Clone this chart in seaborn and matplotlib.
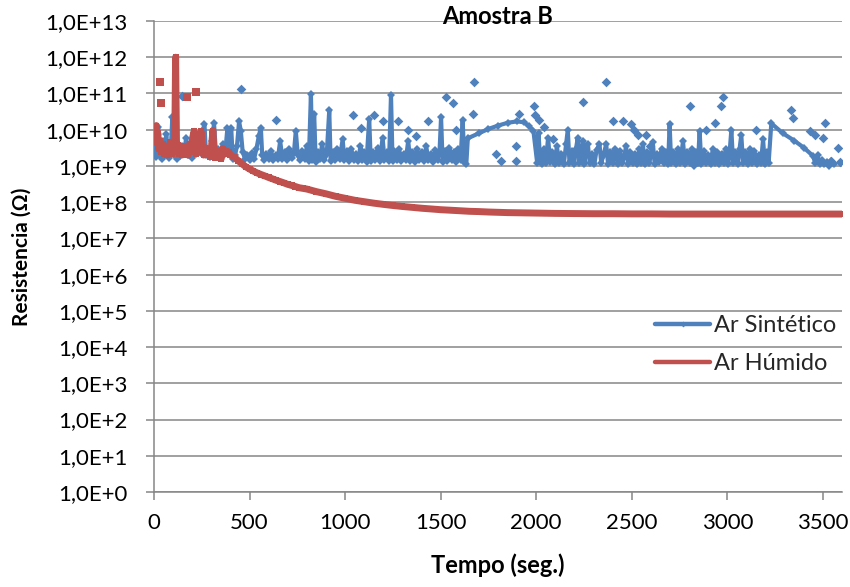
import numpy as np
import pandas as pd
import matplotlib
matplotlib.use("Agg")
import matplotlib.pyplot as plt
from matplotlib.lines import Line2D
import seaborn as sns

# ---- Ar Sintético: continuous trace (tempo em s, resistência em Ω) ----
t_sint = [
    0, 5, 10, 16, 22, 28, 34, 40, 48, 56, 64, 72, 80, 88, 96, 102, 110, 118, 128, 138,
    148, 158, 168, 178, 188, 198, 210, 222, 234, 246, 256, 264, 272, 282, 292, 304, 314, 324, 336, 348,
    360, 372, 384, 394, 404, 412, 424, 434, 445, 454, 464, 476, 488, 500, 512, 524, 536, 548, 559, 566,
    576, 588, 600, 612, 624, 636, 648, 660, 672, 684, 696, 708, 720, 732, 742, 752, 764, 776, 788, 800,
    810, 821, 828, 838, 846, 856, 868, 880, 892, 904, 917, 924, 936, 948, 960, 972, 987, 996, 1008, 1020,
    1032, 1044, 1056, 1068, 1080, 1090, 1100, 1112, 1126, 1134, 1146, 1158, 1170, 1182, 1196, 1206, 1218, 1230, 1240, 1248,
    1258, 1270, 1282, 1294, 1306, 1318, 1330, 1340, 1352, 1364, 1376, 1388, 1400, 1412, 1424, 1436, 1448, 1460, 1472, 1484,
    1494, 1502, 1510, 1522, 1534, 1546, 1558, 1570, 1580, 1592, 1604, 1615, 1624, 1634, 1642, 1700, 1750, 1800, 1850, 1900,
    1935, 1960, 1985, 2005, 2012, 2020, 2030, 2040, 2050, 2062, 2072, 2084, 2096, 2108, 2120, 2132, 2144, 2156, 2165, 2174,
    2186, 2198, 2208, 2217, 2226, 2236, 2244, 2252, 2262, 2270, 2280, 2292, 2304, 2316, 2331, 2340, 2352, 2366, 2376, 2388,
    2400, 2410, 2418, 2426, 2438, 2450, 2462, 2470, 2480, 2492, 2504, 2516, 2528, 2540, 2550, 2558, 2568, 2580, 2592, 2610,
    2620, 2632, 2644, 2656, 2668, 2680, 2690, 2698, 2706, 2718, 2730, 2742, 2754, 2768, 2778, 2790, 2802, 2814, 2826, 2838,
    2846, 2855, 2864, 2876, 2888, 2900, 2912, 2924, 2936, 2948, 2958, 2970, 2980, 2992, 3004, 3012, 3021, 3030, 3042, 3054,
    3064, 3073, 3082, 3094, 3106, 3118, 3130, 3142, 3154, 3164, 3176, 3187, 3196, 3206, 3216, 3230, 3290, 3350, 3400, 3448,
    3460, 3472, 3484, 3496, 3508, 3520, 3532, 3544, 3556,
]
r_sint = [
    2.5e9, 4.0e9, 1.8e9, 6.5e9, 1.2e10, 2.0e9, 3.2e9, 1.6e9, 5.0e9, 2.0e9, 7.5e9, 2.3e9, 1.7e9, 3.0e9, 2.3e10, 2.0e9, 4.5e9, 1.6e9, 2.8e9, 1.9e9,
    3.5e9, 2.2e9, 6.0e9, 2.0e9, 3.0e9, 1.7e9, 4.0e9, 2.1e9, 7.0e9, 2.3e9, 1.0e10, 1.4e10, 2.0e9, 3.0e9, 1.8e9, 5.0e9, 1.5e10, 2.2e9, 3.0e9, 1.9e9,
    4.0e9, 2.2e9, 1.1e10, 2.5e9, 1.1e10, 1.6e9, 2.0e9, 3.5e9, 1.7e10, 9.5e9, 2.4e9, 1.6e9, 2.0e9, 1.5e9, 2.3e9, 1.6e9, 3.0e9, 6.5e9, 1.15e10, 2.0e9,
    1.5e9, 2.2e9, 1.6e9, 2.6e9, 1.5e9, 2.0e9, 1.6e9, 4.9e9, 1.6e9, 2.5e9, 1.5e9, 3.0e9, 1.7e9, 2.3e9, 9.3e9, 2.0e9, 1.5e9, 2.6e9, 1.6e9, 3.5e9,
    1.4e9, 9.5e10, 1.5e9, 2.8e10, 1.3e9, 2.5e9, 1.6e9, 4.0e9, 1.5e9, 2.2e9, 3.5e10, 1.4e9, 2.4e9, 1.5e9, 3.0e9, 1.6e9, 5.4e9, 1.5e9, 2.6e9, 1.4e9,
    3.0e9, 1.5e9, 2.2e9, 1.4e9, 3.5e9, 1.5e9, 2.4e9, 1.3e9, 2.0e10, 1.4e9, 2.5e9, 1.5e9, 3.2e9, 1.4e9, 6.0e9, 1.5e9, 2.4e9, 1.4e9, 9.0e10, 1.4e9,
    2.6e9, 1.5e9, 3.0e9, 1.4e9, 2.2e9, 1.5e9, 5.0e9, 1.4e9, 2.5e9, 1.3e9, 3.0e9, 1.5e9, 2.4e9, 1.4e9, 3.5e9, 1.5e9, 2.2e9, 1.3e9, 2.8e9, 1.5e9,
    2.5e9, 2.2e10, 1.3e9, 2.6e9, 1.4e9, 3.2e9, 1.5e9, 2.4e9, 1.3e9, 3.0e9, 1.5e9, 1.8e10, 1.3e9, 1.1e9, 5.8e9, 8.0e9, 1.05e10, 1.3e10, 1.55e10, 1.7e10,
    1.6e10, 1.3e10, 9.5e9, 1.2e9, 8.0e9, 1.5e9, 1.1e9, 3.0e9, 1.2e9, 6.0e9, 1.3e9, 2.5e9, 1.1e9, 3.5e9, 1.2e9, 2.2e9, 1.1e9, 4.0e9, 1.0e10, 1.2e9,
    2.6e9, 1.1e9, 3.0e9, 5.8e9, 1.2e9, 2.4e9, 5.0e9, 1.1e9, 3.5e9, 4.0e9, 1.2e9, 2.2e9, 1.1e9, 2.8e9, 4.0e9, 1.2e9, 2.0e9, 4.0e9, 1.1e9, 2.5e9,
    1.2e9, 3.0e9, 2.3e9, 1.1e9, 2.6e9, 1.2e9, 2.0e9, 3.5e9, 1.1e9, 2.4e9, 1.2e9, 2.2e9, 1.1e9, 3.0e9, 1.2e9, 4.0e9, 1.1e9, 2.5e9, 1.2e9, 4.5e9,
    1.1e9, 2.2e9, 1.3e9, 3.0e9, 1.2e9, 2.5e9, 1.1e9, 1.4e10, 1.2e9, 2.4e9, 1.1e9, 3.0e9, 1.2e9, 4.8e9, 1.1e9, 2.5e9, 1.2e9, 3.0e9, 1.0e9, 2.4e9,
    1.2e9, 9.0e9, 1.1e9, 2.6e9, 1.2e9, 2.0e9, 1.1e9, 3.0e9, 1.2e9, 2.5e9, 1.1e9, 2.2e9, 1.2e9, 3.0e9, 1.1e9, 2.4e9, 1.0e10, 1.2e9, 2.5e9, 1.1e9,
    3.0e9, 7.2e9, 1.2e9, 2.4e9, 1.1e9, 3.0e9, 1.2e9, 2.6e9, 1.1e9, 2.0e9, 1.2e9, 5.4e9, 1.1e9, 2.5e9, 1.2e9, 1.5e10, 8.0e9, 5.0e9, 3.2e9, 1.9e9,
    1.2e9, 2.0e9, 1.1e9, 1.5e9, 1.1e9, 1.3e9, 1.0e9, 1.4e9, 1.1e9,
]

# ---- Ar Sintético: isolated readings ----
t_sint_iso = [145, 455, 637, 1039, 1083, 1152, 1196, 1275, 1327, 1371, 1432, 1528, 1563, 1580,
              1668, 1676, 1790, 1816, 1894, 1894, 1912, 1990, 1995, 2017, 2043, 2086, 2244, 2366,
              2401, 2453, 2497, 2514, 2532, 2575, 2593, 2803, 2890, 2934, 2968, 2977, 3152, 3335,
              3344, 3431, 3457, 3501, 3510, 3545, 3580, 3590]
r_sint_iso = [8.5e10, 1.3e11, 1.8e10, 2.5e10, 1.1e10, 2.5e10, 1.7e10, 1.7e10, 1.0e10, 6.6e9, 1.7e10, 8.0e10, 5.4e10, 1.0e10,
              2.8e10, 2.1e11, 2.1e9, 1.4e9, 3.5e9, 1.4e9, 2.8e10, 4.4e10, 2.5e10, 1.9e10, 1.2e10, 5.4e9, 5.9e10, 2.1e11,
              1.7e10, 1.7e10, 1.4e10, 1.0e10, 7.2e9, 7.2e9, 3.5e9, 4.4e10, 1.0e10, 1.5e10, 4.4e10, 8.0e10, 1.0e10, 3.5e10,
              2.1e10, 9.0e9, 7.0e9, 6.0e9, 1.5e10, 1.4e9, 3.2e9, 1.3e9]

# ---- Ar Húmido: continuous trace ----
t_hum = [
    0, 4, 8, 12, 16, 20, 24, 30, 38, 46, 54, 62, 70, 78, 86, 94, 102, 108, 113, 118,
    124, 130, 138, 146, 154, 162, 170, 178, 186, 194, 202, 210, 216, 222, 230, 238, 246, 252, 260, 268,
    276, 284, 292, 300, 308, 314, 320, 328, 336, 344, 352, 360, 368, 376, 384, 392, 400, 420, 440, 460,
    480, 500, 520, 540, 560, 580, 600, 620, 640, 660, 680, 700, 720, 740, 760, 780, 800, 850, 900, 950,
    1000, 1050, 1100, 1150, 1200, 1250, 1300, 1350, 1400, 1450, 1500, 1550, 1600, 1650, 1700, 1750, 1800, 1850, 1900, 1950,
    2000, 2100, 2200, 2300, 2400, 2500, 2600, 2700, 2800, 2900, 3000, 3100, 3200, 3300, 3400, 3500, 3600,
]
r_hum = [
    4.5e9, 6.0e9, 1.0e10, 1.3e10, 5.0e9, 8.0e9, 3.0e9, 5.0e9, 2.5e9, 4.0e9, 2.2e9, 3.5e9, 2.0e9, 3.0e9, 4.5e9, 2.2e9, 3.5e9, 2.5e9, 1.0e12, 2.6e9,
    3.8e9, 2.2e9, 3.0e9, 2.0e9, 3.5e9, 2.4e9, 3.0e9, 2.0e9, 4.0e9, 2.5e9, 6.0e9, 9.0e9, 3.0e9, 2.2e9, 3.5e9, 2.4e9, 9.0e9, 3.0e9, 2.0e9, 3.2e9,
    2.2e9, 2.8e9, 1.8e9, 3.0e9, 9.5e9, 2.5e9, 1.7e9, 2.6e9, 1.8e9, 2.4e9, 1.6e9, 3.0e9, 2.2e9, 2.6e9, 2.2e9, 2.4e9, 2.0e9, 1.75e9, 1.4e9, 1.15e9,
    9.5e8, 8.2e8, 7.2e8, 6.4e8, 5.8e8, 5.3e8, 4.8e8, 4.4e8, 4.0e8, 3.7e8, 3.4e8, 3.1e8, 2.9e8, 2.7e8, 2.5e8, 2.4e8, 2.3e8, 1.95e8, 1.7e8, 1.45e8,
    1.28e8, 1.13e8, 1.03e8, 9.4e7, 8.7e7, 8.1e7, 7.6e7, 7.2e7, 6.8e7, 6.5e7, 6.2e7, 6.0e7, 5.8e7, 5.6e7, 5.5e7, 5.35e7, 5.25e7, 5.15e7, 5.1e7, 5.05e7,
    5.0e7, 4.9e7, 4.85e7, 4.8e7, 4.8e7, 4.75e7, 4.75e7, 4.7e7, 4.7e7, 4.7e7, 4.7e7, 4.7e7, 4.7e7, 4.7e7, 4.7e7, 4.7e7, 4.7e7,
]

# ---- Ar Húmido: isolated readings ----
t_hum_iso = [31, 35, 175, 218]
r_hum_iso = [2.1e11, 5.3e10, 8.0e10, 1.1e11]

# Axis values
y_exponents = list(range(0, 14))
y_tick_labels = [f"1,0E+{k}" for k in y_exponents]
x_ticks = [0, 500, 1000, 1500, 2000, 2500, 3000, 3500]

BLUE = "#4F81BD"
RED = "#C0504D"
GRID = "#868686"

sns.set_theme(style="white")
plt.rcParams["font.family"] = ["Lato", "DejaVu Sans"]

fig = plt.figure(figsize=(8.5, 5.87), dpi=100)
ax = fig.add_axes([0.1812, 0.1618, 0.8094, 0.8024])

sint = pd.DataFrame({"t": t_sint, "r": r_sint})
sint_iso = pd.DataFrame({"t": t_sint_iso, "r": r_sint_iso})
hum = pd.DataFrame({"t": t_hum, "r": r_hum})
hum_iso = pd.DataFrame({"t": t_hum_iso, "r": r_hum_iso})

sns.lineplot(data=sint, x="t", y="r", sort=False, estimator=None, color=BLUE,
             linewidth=3.0, marker="D", markersize=4.2, markeredgewidth=0, ax=ax, zorder=3)
sns.scatterplot(data=sint_iso, x="t", y="r", marker="D", s=24, color=BLUE,
                linewidth=0, ax=ax, zorder=3)
sns.lineplot(data=hum, x="t", y="r", sort=False, estimator=None, color=RED,
             linewidth=5.0, marker="s", markersize=5, markeredgewidth=0, ax=ax, zorder=4)
sns.scatterplot(data=hum_iso, x="t", y="r", marker="s", s=30, color=RED,
                linewidth=0, ax=ax, zorder=4)

ax.set_yscale("log")
ax.set_ylim(1, 1e13)
ax.set_xlim(0, 3600)
ax.set_yticks([10.0 ** k for k in y_exponents])
ax.set_yticklabels(y_tick_labels)
ax.yaxis.set_minor_locator(matplotlib.ticker.NullLocator())
ax.set_xticks(x_ticks)
ax.set_xticklabels([str(v) for v in x_ticks])

ax.yaxis.grid(True, color=GRID, linewidth=1.1, zorder=0)
ax.xaxis.grid(False)
ax.set_axisbelow(True)
for side in ("top", "right"):
    ax.spines[side].set_visible(False)
for side in ("left", "bottom"):
    ax.spines[side].set_color(GRID)
    ax.spines[side].set_linewidth(1.1)

ax.tick_params(axis="both", which="major", direction="out", length=6, width=1.1,
               color=GRID, labelsize=16, labelcolor="black", left=True, bottom=True)
ax.tick_params(axis="y", pad=13)
ax.tick_params(axis="x", pad=9)

ax.set_xlabel("Tempo (seg.)", fontsize=17, fontweight="bold", color="black")
ax.set_ylabel("Resistencia (Ω)", fontsize=15, fontweight="bold", color="black")
ax.xaxis.label.set_verticalalignment("center")
ax.yaxis.label.set_verticalalignment("center")
ax.xaxis.set_label_coords(0.5, (492 - 565) / 471)
ax.yaxis.set_label_coords((22 - 154) / 688, 0.5)
fig.text(498 / 850, 1 - 16 / 587, "Amostra B", ha="center", va="center",
         fontsize=17, fontweight="bold", color="black")

handles = [
    Line2D([], [], color=BLUE, linewidth=3.2, marker="D", markersize=3, markeredgewidth=0),
    Line2D([], [], color=RED, linewidth=3.2, marker="s", markersize=3, markeredgewidth=0),
]
ax.legend(handles, ["Ar Sintético", "Ar Húmido"], loc="upper left",
          bbox_to_anchor=(655 / 850, 1 - 315 / 587), bbox_transform=fig.transFigure,
          frameon=False, fontsize=17, handlelength=2.35, handletextpad=0.15,
          labelspacing=0.72, borderpad=0, borderaxespad=0)

fig.savefig("out.png", dpi=100)
